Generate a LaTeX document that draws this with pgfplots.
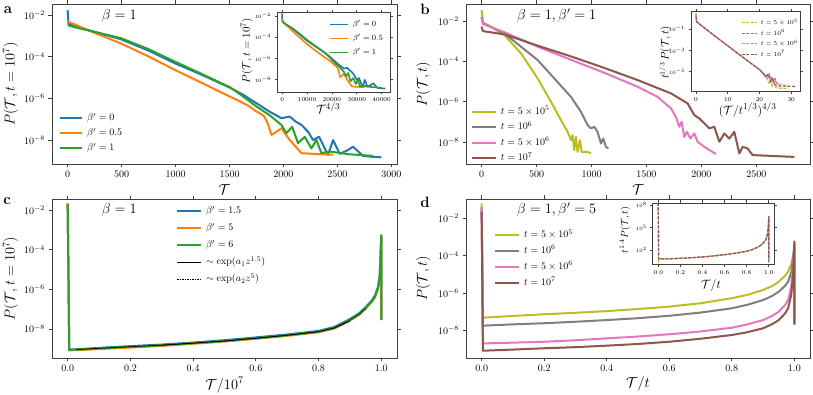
\documentclass[border=0pt]{standalone}
\usepackage{pgfplots}
\pgfplotsset{compat=1.18}
\definecolor{tblue}{HTML}{1F77B4}
\definecolor{torange}{HTML}{FF7F0E}
\definecolor{tgreen}{HTML}{2CA02C}
\definecolor{tolive}{HTML}{BCBD22}
\definecolor{tgray}{HTML}{7F7F7F}
\definecolor{tpink}{HTML}{E377C2}
\definecolor{tbrown}{HTML}{8C564B}
\newcommand{\fs}[1]{\fontsize{#1}{#1}\selectfont}

% y values are log10 P; tick labels carry the powers of ten
\pgfplotsset{
  base/.style={
    scale only axis, anchor=south west,
    axis line style={black!75, line width=0.8pt},
    tick style={black!75, line width=0.8pt},
    tick align=outside, xtick pos=both, ytick pos=both,
    major tick length=3.5pt, minor tick num=0,
    tick label style={font=\fs{10}},
    label style={font=\fs{14}},
    scaled ticks=false, /pgf/number format/1000 sep={},
    axis background/.style={fill=white},
    every axis plot/.append style={line width=2pt, line join=round, mark=none},
    legend cell align=left,
    legend image code/.code={\draw[##1] (0pt,0pt) -- (24pt,0pt);},
    legend style={draw=none, fill=none, inner sep=0pt, font=\fs{10}, anchor=north west,
      nodes={inner sep=1pt, text height=7pt, text depth=2pt}, row sep=4pt, column sep=3pt},
  },
  inset/.style={base, major tick length=2.5pt,
    tick label style={font=\fs{6.5}},
    every axis plot/.append style={line width=1.6pt},
  },
}

\begin{document}
\begin{tikzpicture}
\path[use as bounding box] (0,0) rectangle (813pt,395pt);

% ---------------- panel a ----------------
\begin{axis}[base, at={(52pt,231pt)}, width=345pt, height=160pt,
  xmin=-145, xmax=3052, ymin=-9.15, ymax=-1.46,
  xtick={0,500,...,3000}, ytick={-8,-6,-4,-2},
  yticklabels={$10^{-8}$,$10^{-6}$,$10^{-4}$,$10^{-2}$},
  xlabel={$\mathcal{T}$}, ylabel={$P(\mathcal{T},t=10^7)$},
  xlabel style={at={(axis description cs:0.5,-0.16)}, anchor=center},
  ylabel style={at={(axis description cs:-0.12,0.5)}, anchor=center},
  legend style={at={(axis description cs:0.02,0.322)}},
  legend image code/.code={\draw[#1] (0pt,0pt) -- (22pt,0pt);},
]
\addplot[tblue] coordinates {(0,-1.76) (8,-2.42) (100,-2.58) (250,-2.8) (491,-3.15) (750,-3.7) (994,-4.31) (1250,-4.88) (1503,-5.48) (1625,-5.82) (1750,-6.23) (1860,-6.6) (1981,-6.95) (2058,-6.87) (2110,-7.1) (2166,-7.27) (2228,-7.6) (2274,-8.0) (2330,-7.84) (2413,-8.72) (2460,-8.0) (2521,-8.66) (2590,-8.5) (2645,-8.32) (2737,-8.76) (2814,-8.8) (2907,-8.83)};
\addlegendentry{$\beta'=0$}
\addplot[torange] coordinates {(0,-2.3) (15,-2.33) (100,-2.52) (250,-2.85) (491,-3.35) (750,-3.98) (994,-4.63) (1250,-5.27) (1503,-5.91) (1600,-6.15) (1688,-6.39) (1740,-6.6) (1781,-6.71) (1820,-6.85) (1850,-7.15) (1889,-7.75) (1935,-7.6) (1981,-7.43) (2058,-8.0) (2110,-8.3) (2166,-8.63) (2300,-8.67) (2460,-8.7)};
\addlegendentry{$\beta'=0.5$}
\addplot[tgreen] coordinates {(0,-2.48) (100,-2.62) (250,-2.8) (491,-3.1) (750,-3.63) (994,-4.23) (1250,-4.84) (1503,-5.46) (1625,-5.9) (1750,-6.39) (1870,-6.8) (1981,-7.27) (2027,-7.67) (2080,-7.36) (2135,-8.15) (2197,-7.84) (2259,-8.4) (2305,-8.0) (2352,-8.63) (2429,-8.55) (2600,-8.68) (2830,-8.76)};
\addlegendentry{$\beta'=1$}
\end{axis}

% inset a: x = T^{4/3}
\begin{axis}[inset, at={(277pt,303pt)}, width=113.5pt, height=79.5pt,
  xmin=-2074, xmax=43563, ymin=-9.15, ymax=-1.67,
  xtick={0,10000,...,40000}, ytick={-8,-6,-4,-2},
  yticklabels={$10^{-8}$,$10^{-6}$,$10^{-4}$,$10^{-2}$},
  yticklabel style={font=\fs{5.5}},
  xlabel={$\mathcal{T}^{4/3}$}, ylabel={$P(\mathcal{T},t=10^7)$},
  xlabel style={font=\fs{13}, at={(axis description cs:0.452,-0.205)}, anchor=center},
  ylabel style={font=\fs{11}, at={(axis description cs:-0.267,0.518)}, anchor=center},
  legend style={font=\fs{8}, at={(axis description cs:0.458,0.912)},
    nodes={inner sep=1pt, text height=6pt, text depth=1.5pt}, row sep=4.5pt},
  legend image code/.code={\draw[#1] (0pt,0pt) -- (18pt,0pt);},
]
\addplot[tblue] coordinates {(0,-1.76) (16,-2.42) (464,-2.58) (1575,-2.8) (3874,-3.15) (6814,-3.7) (9920,-4.31) (13465,-4.88) (17218,-5.48) (19105,-5.82) (21088,-6.23) (22874,-6.6) (24880,-6.95) (26178,-6.87) (27063,-7.1) (28026,-7.27) (29100,-7.6) (29903,-8.0) (30889,-7.84) (32366,-8.72) (33210,-8.0) (34311,-8.66) (35568,-8.5) (36580,-8.32) (38285,-8.76) (39728,-8.8) (41489,-8.83)};
\addlegendentry{$\beta'=0$}
\addplot[torange] coordinates {(0,-2.3) (37,-2.33) (464,-2.52) (1575,-2.85) (3874,-3.35) (6814,-3.98) (9920,-4.63) (13465,-5.27) (17218,-5.91) (18714,-6.15) (20099,-6.39) (20927,-6.6) (21590,-6.71) (22220,-6.85) (22711,-7.15) (23352,-7.75) (24112,-7.6) (24880,-7.43) (26178,-8.0) (27063,-8.3) (28026,-8.63) (30360,-8.67) (33210,-8.7)};
\addlegendentry{$\beta'=0.5$}
\addplot[tgreen] coordinates {(0,-2.48) (464,-2.62) (1575,-2.8) (3874,-3.1) (6814,-3.63) (9920,-4.23) (13465,-4.84) (17218,-5.46) (19105,-5.9) (21088,-6.39) (23038,-6.8) (24880,-7.27) (25654,-7.67) (26551,-7.36) (27490,-8.15) (28561,-7.84) (29640,-8.4) (30449,-8.0) (31279,-8.63) (32651,-8.55) (35750,-8.68) (40030,-8.76)};
\addlegendentry{$\beta'=1$}
\end{axis}

% ---------------- panel b ----------------
\begin{axis}[base, at={(466pt,231pt)}, width=344pt, height=160pt,
  xmin=-142, xmax=2988, ymin=-9.07, ymax=-1.16,
  xtick={0,500,...,2500}, ytick={-8,-6,-4,-2},
  yticklabels={$10^{-8}$,$10^{-6}$,$10^{-4}$,$10^{-2}$},
  xlabel={$\mathcal{T}$}, ylabel={$P(\mathcal{T},t)$},
  xlabel style={at={(axis description cs:0.5,-0.16)}, anchor=center},
  ylabel style={at={(axis description cs:-0.124,0.5)}, anchor=center},
  legend style={at={(axis description cs:0.0137,0.361)}, row sep=4.5pt},
]
\addplot[tolive] coordinates {(0,-1.46) (12,-2.08) (85,-2.28) (206,-2.69) (358,-3.6) (510,-4.84) (631,-5.99) (722,-6.9) (783,-7.48) (813,-7.89) (828,-7.64) (843,-8.39) (858,-7.73) (873,-8.47) (895,-7.89) (910,-8.47) (949,-8.47) (995,-8.52)};
\addlegendentry{$t=5\times10^5$}
\addplot[tgray] coordinates {(0,-1.79) (12,-2.11) (206,-2.61) (510,-3.93) (661,-4.84) (813,-5.75) (904,-6.49) (965,-7.15) (995,-7.31) (1025,-7.23) (1055,-7.48) (1086,-8.06) (1107,-7.81) (1131,-8.22) (1153,-8.3)};
\addlegendentry{$t=10^6$}
\addplot[tpink] coordinates {(0,-1.87) (12,-2.15) (206,-2.55) (510,-3.27) (813,-3.92) (1116,-4.56) (1419,-5.25) (1601,-5.75) (1723,-6.32) (1768,-6.74) (1799,-7.23) (1820,-6.98) (1844,-7.73) (1868,-7.48) (1899,-7.81) (1935,-7.56) (1965,-7.97) (2026,-8.22) (2132,-8.58)};
\addlegendentry{$t=5\times10^6$}
\addplot[tbrown] coordinates {(0,-2.28) (12,-2.5) (206,-2.66) (510,-3.22) (813,-3.75) (1116,-4.32) (1419,-4.92) (1723,-5.58) (1874,-6.07) (1935,-6.65) (1981,-6.82) (2026,-7.06) (2072,-7.31) (2117,-7.23) (2163,-7.97) (2208,-7.56) (2254,-7.81) (2299,-7.48) (2345,-8.55) (2375,-8.22) (2420,-8.3) (2466,-8.63) (2846,-8.72)};
\addlegendentry{$t=10^7$}
\end{axis}

% inset b: x = (T/t^{1/3})^{4/3}, y = t^{1/3} P
\begin{axis}[inset, at={(691pt,303.3pt)}, width=109pt, height=80pt,
  xmin=-1.56, xmax=32.76, ymin=-6.89, ymax=0.66,
  xtick={0,10,20,30}, ytick={-5,-3,-1},
  yticklabels={$10^{-5}$,$10^{-3}$,$10^{-1}$},
  yticklabel style={font=\fs{5.5}},
  every axis plot/.append style={line width=1.1pt, dash pattern=on 3pt off 1.5pt},
  xlabel={$(\mathcal{T}/t^{1/3})^{4/3}$}, ylabel={$t^{1/3}\,P(\mathcal{T},t)$},
  xlabel style={font=\fs{13}, at={(axis description cs:0.52,-0.229)}, anchor=center},
  ylabel style={font=\fs{10.5}, at={(axis description cs:-0.235,0.49)}, anchor=center},
  legend style={font=\fs{6.5}, at={(axis description cs:0.46,0.909)},
    nodes={inner sep=0.5pt, text height=5pt, text depth=1.5pt}, row sep=3pt},
  legend image code/.code={\draw[#1] (0pt,0pt) -- (15pt,0pt);},
]
\addplot[tolive] coordinates {(0,0.6) (0.2,-0.25) (5,-1.4) (10,-2.55) (15,-3.7) (20,-4.85) (22,-5.4) (23,-6.1) (23.5,-5.6) (24,-6.4) (24.5,-5.9) (25,-6.5) (26,-6.55) (29,-6.6)};
\addlegendentry{$t=5\times10^5$}
\addplot[tgray] coordinates {(0,0.4) (0.2,-0.28) (5,-1.42) (10,-2.56) (15,-3.7) (20,-4.8) (22,-5.5) (23.2,-5.2) (24,-5.9) (24.8,-5.6) (25.5,-6.1) (26,-6.3)};
\addlegendentry{$t=10^6$}
\addplot[tpink] coordinates {(0,0.35) (0.2,-0.3) (5,-1.42) (10,-2.55) (15,-3.68) (20,-4.8) (21.5,-5.2) (22.5,-5.6) (23,-5.35) (23.8,-5.9) (24.5,-5.7) (25.5,-6.1) (28.9,-6.35)};
\addlegendentry{$t=5\times10^6$}
\addplot[tbrown] coordinates {(0,0.2) (0.2,-0.3) (5,-1.43) (10,-2.56) (15,-3.69) (20,-4.8) (21,-5.1) (22,-5.5) (22.7,-5.25) (23.5,-6.0) (24.2,-5.6) (25,-6.3) (26,-6.35) (31.2,-6.4)};
\addlegendentry{$t=10^7$}
\end{axis}

% ---------------- panel c ----------------
\begin{axis}[base, at={(52pt,37pt)}, width=345pt, height=159pt,
  xmin=-0.05, xmax=1.05, ymin=-9.47, ymax=-1.43,
  xtick={0,0.2,...,1.0}, xticklabels={0.0,0.2,0.4,0.6,0.8,1.0},
  ytick={-8,-6,-4,-2},
  yticklabels={$10^{-8}$,$10^{-6}$,$10^{-4}$,$10^{-2}$},
  xlabel={$\mathcal{T}/10^7$}, ylabel={$P(\mathcal{T},t=10^7)$},
  xlabel style={at={(axis description cs:0.5,-0.17)}, anchor=center},
  ylabel style={at={(axis description cs:-0.12,0.5)}, anchor=center},
  legend style={at={(axis description cs:0.359,0.959)}, row sep=6pt},
]
\addplot[tblue] coordinates {(0,-1.7) (0.005,-9.04) (0.05,-9.01) (0.1,-8.96) (0.2,-8.87) (0.3,-8.79) (0.4,-8.69) (0.5,-8.57) (0.6,-8.43) (0.7,-8.28) (0.8,-8.1) (0.85,-7.9) (0.9,-7.5) (0.93,-7.2) (0.95,-6.9) (0.97,-6.55) (0.98,-6.3) (0.99,-5.85) (0.995,-5.25) (1.0,-3.3) (1.0,-7.5)};
\addlegendentry{$\beta'=1.5$}
\addplot[torange] coordinates {(0,-1.7) (0.005,-9.08) (0.05,-9.06) (0.1,-9.02) (0.2,-8.94) (0.3,-8.86) (0.4,-8.75) (0.5,-8.64) (0.6,-8.5) (0.7,-8.35) (0.8,-8.17) (0.85,-7.98) (0.9,-7.58) (0.93,-7.28) (0.95,-6.98) (0.97,-6.63) (0.98,-6.4) (0.99,-5.95) (0.995,-5.35) (1.0,-3.3) (1.0,-7.55)};
\addlegendentry{$\beta'=5$}
\addplot[tgreen] coordinates {(0,-1.65) (0.005,-9.06) (0.05,-9.03) (0.1,-8.98) (0.2,-8.9) (0.3,-8.82) (0.4,-8.72) (0.5,-8.61) (0.6,-8.47) (0.7,-8.32) (0.8,-8.14) (0.85,-7.95) (0.9,-7.55) (0.93,-7.25) (0.95,-6.95) (0.97,-6.6) (0.98,-6.36) (0.99,-5.9) (0.995,-5.3) (1.0,-3.25) (1.0,-7.55)};
\addlegendentry{$\beta'=6$}
\addplot[black, line width=0.7pt] coordinates {(0.03,-9.04) (0.1,-8.98) (0.2,-8.9) (0.3,-8.82) (0.4,-8.72) (0.5,-8.61) (0.6,-8.47) (0.7,-8.32) (0.8,-8.14) (0.85,-7.95) (0.9,-7.6)};
\addlegendentry{$\sim\exp(a_1 z^{1.5})$}
\addplot[black, line width=0.7pt, dash pattern=on 1.5pt off 1pt] coordinates {(0.3,-8.82) (0.4,-8.72) (0.5,-8.61) (0.6,-8.47) (0.7,-8.32) (0.8,-8.14) (0.85,-7.95) (0.9,-7.55) (0.93,-7.25) (0.95,-6.95)};
\addlegendentry{$\sim\exp(a_2 z^{5})$}
\end{axis}

% ---------------- panel d ----------------
\begin{axis}[base, at={(466pt,37pt)}, width=344pt, height=159pt,
  xmin=-0.05, xmax=1.05, ymin=-9.48, ymax=-0.97,
  xtick={0,0.2,...,1.0}, xticklabels={0.0,0.2,0.4,0.6,0.8,1.0},
  ytick={-8,-6,-4,-2},
  yticklabels={$10^{-8}$,$10^{-6}$,$10^{-4}$,$10^{-2}$},
  xlabel={$\mathcal{T}/t$}, ylabel={$P(\mathcal{T},t)$},
  xlabel style={at={(axis description cs:0.5,-0.16)}, anchor=center},
  ylabel style={at={(axis description cs:-0.124,0.5)}, anchor=center},
  legend style={at={(axis description cs:0.0814,0.808)}, row sep=4.8pt},
]
\addplot[tolive] coordinates {(0,-1.2) (0.004,-7.32) (0.1,-7.23) (0.2,-7.14) (0.3,-7.06) (0.4,-6.97) (0.5,-6.86) (0.6,-6.73) (0.7,-6.55) (0.8,-6.28) (0.85,-6.1) (0.9,-5.84) (0.93,-5.62) (0.95,-5.4) (0.97,-5.08) (0.98,-4.86) (0.99,-4.45) (0.996,-4.0) (1.0,-3.6) (1.0,-7.7)};
\addlegendentry{$t=5\times10^5$}
\addplot[tgray] coordinates {(0,-1.45) (0.004,-7.75) (0.1,-7.68) (0.2,-7.62) (0.3,-7.54) (0.4,-7.45) (0.5,-7.35) (0.6,-7.22) (0.7,-7.05) (0.8,-6.82) (0.85,-6.63) (0.9,-6.38) (0.93,-6.15) (0.95,-5.93) (0.97,-5.62) (0.98,-5.4) (0.99,-4.9) (0.996,-4.2) (1.0,-3.4) (1.0,-7.6)};
\addlegendentry{$t=10^6$}
\addplot[tpink] coordinates {(0,-1.4) (0.004,-8.7) (0.1,-8.66) (0.2,-8.61) (0.3,-8.53) (0.4,-8.43) (0.5,-8.33) (0.6,-8.21) (0.7,-8.06) (0.8,-7.86) (0.85,-7.68) (0.9,-7.45) (0.93,-7.22) (0.95,-7.0) (0.97,-6.65) (0.98,-6.38) (0.99,-5.66) (0.996,-4.6) (1.0,-3.3) (1.0,-7.5)};
\addlegendentry{$t=5\times10^6$}
\addplot[tbrown] coordinates {(0,-1.65) (0.004,-9.09) (0.1,-9.03) (0.2,-8.96) (0.3,-8.9) (0.4,-8.82) (0.5,-8.73) (0.6,-8.61) (0.7,-8.45) (0.8,-8.25) (0.85,-8.1) (0.9,-7.89) (0.93,-7.66) (0.95,-7.45) (0.97,-7.1) (0.98,-6.82) (0.99,-6.1) (0.996,-5.0) (1.0,-3.25) (1.0,-7.7)};
\addlegendentry{$t=10^7$}
\end{axis}

% inset d: y = t^{1.4} P
\begin{axis}[inset, at={(652.7pt,130.5pt)}, width=121.6pt, height=61.5pt,
  xmin=-0.05, xmax=1.05, ymin=0.1, ymax=8.3,
  xtick={0,0.2,...,1.0}, xticklabels={0.0,0.2,0.4,0.6,0.8,1.0},
  xticklabel style={font=\fs{6}},
  ytick={2,5,8}, yticklabels={$10^{2}$,$10^{5}$,$10^{8}$},
  yticklabel style={font=\fs{5.5}},
  every axis plot/.append style={line width=1.1pt, dash pattern=on 3pt off 1.5pt},
  xlabel={$\mathcal{T}/t$}, ylabel={$t^{1.4}P(\mathcal{T},t)$},
  xlabel style={font=\fs{12.5}, at={(axis description cs:0.479,-0.34)}, anchor=center},
  ylabel style={font=\fs{10}, at={(axis description cs:-0.228,0.561)}, anchor=center},
]
\addplot[tolive] coordinates {(0,8.3) (0.002,0.4) (0.006,0.86) (0.1,0.88) (0.2,0.93) (0.3,1.01) (0.4,1.11) (0.5,1.25) (0.6,1.42) (0.7,1.62) (0.8,1.88) (0.85,2.1) (0.9,2.42) (0.93,2.72) (0.95,2.98) (0.97,3.36) (0.98,3.64) (0.99,4.3) (0.995,5.0) (1.0,6.3) (1.0,0.3)};
\addplot[tgray] coordinates {(0,8.3) (0.004,0.84) (0.1,0.86) (0.2,0.92) (0.3,1.0) (0.4,1.1) (0.5,1.24) (0.6,1.41) (0.7,1.6) (0.8,1.87) (0.85,2.08) (0.9,2.4) (0.93,2.7) (0.95,2.97) (0.97,3.35) (0.98,3.64) (0.99,4.3) (0.995,5.0) (1.0,6.4) (1.0,0.5)};
\addplot[tpink] coordinates {(0,8.3) (0.004,0.84) (0.1,0.86) (0.2,0.92) (0.3,1.0) (0.4,1.1) (0.5,1.24) (0.6,1.41) (0.7,1.6) (0.8,1.87) (0.85,2.08) (0.9,2.4) (0.93,2.7) (0.95,2.97) (0.97,3.35) (0.98,3.64) (0.99,4.3) (0.995,5.0) (1.0,6.45) (1.0,0.5)};
\addplot[tbrown] coordinates {(0,8.3) (0.004,0.84) (0.1,0.86) (0.2,0.92) (0.3,1.0) (0.4,1.1) (0.5,1.24) (0.6,1.41) (0.7,1.6) (0.8,1.87) (0.85,2.08) (0.9,2.4) (0.93,2.7) (0.95,2.97) (0.97,3.35) (0.98,3.64) (0.99,4.3) (0.995,5.0) (1.0,6.5) (1.0,0.5)};
\end{axis}

% panel letters and parameter notes
\node[font=\bfseries\fs{15}] at (8pt,385pt) {a};
\node[font=\bfseries\fs{15}] at (425pt,386pt) {b};
\node[font=\bfseries\fs{15}] at (7pt,194pt) {c};
\node[font=\bfseries\fs{15}] at (425pt,193pt) {d};
\node[font=\fs{14}] at (119.3pt,379pt) {$\beta=1$};
\node[font=\fs{14}] at (556.7pt,379pt) {$\beta=1,\beta'=1$};
\node[font=\fs{14}] at (119.3pt,185pt) {$\beta=1$};
\node[font=\fs{14}] at (556.7pt,185pt) {$\beta=1,\beta'=5$};
\end{tikzpicture}
\end{document}
